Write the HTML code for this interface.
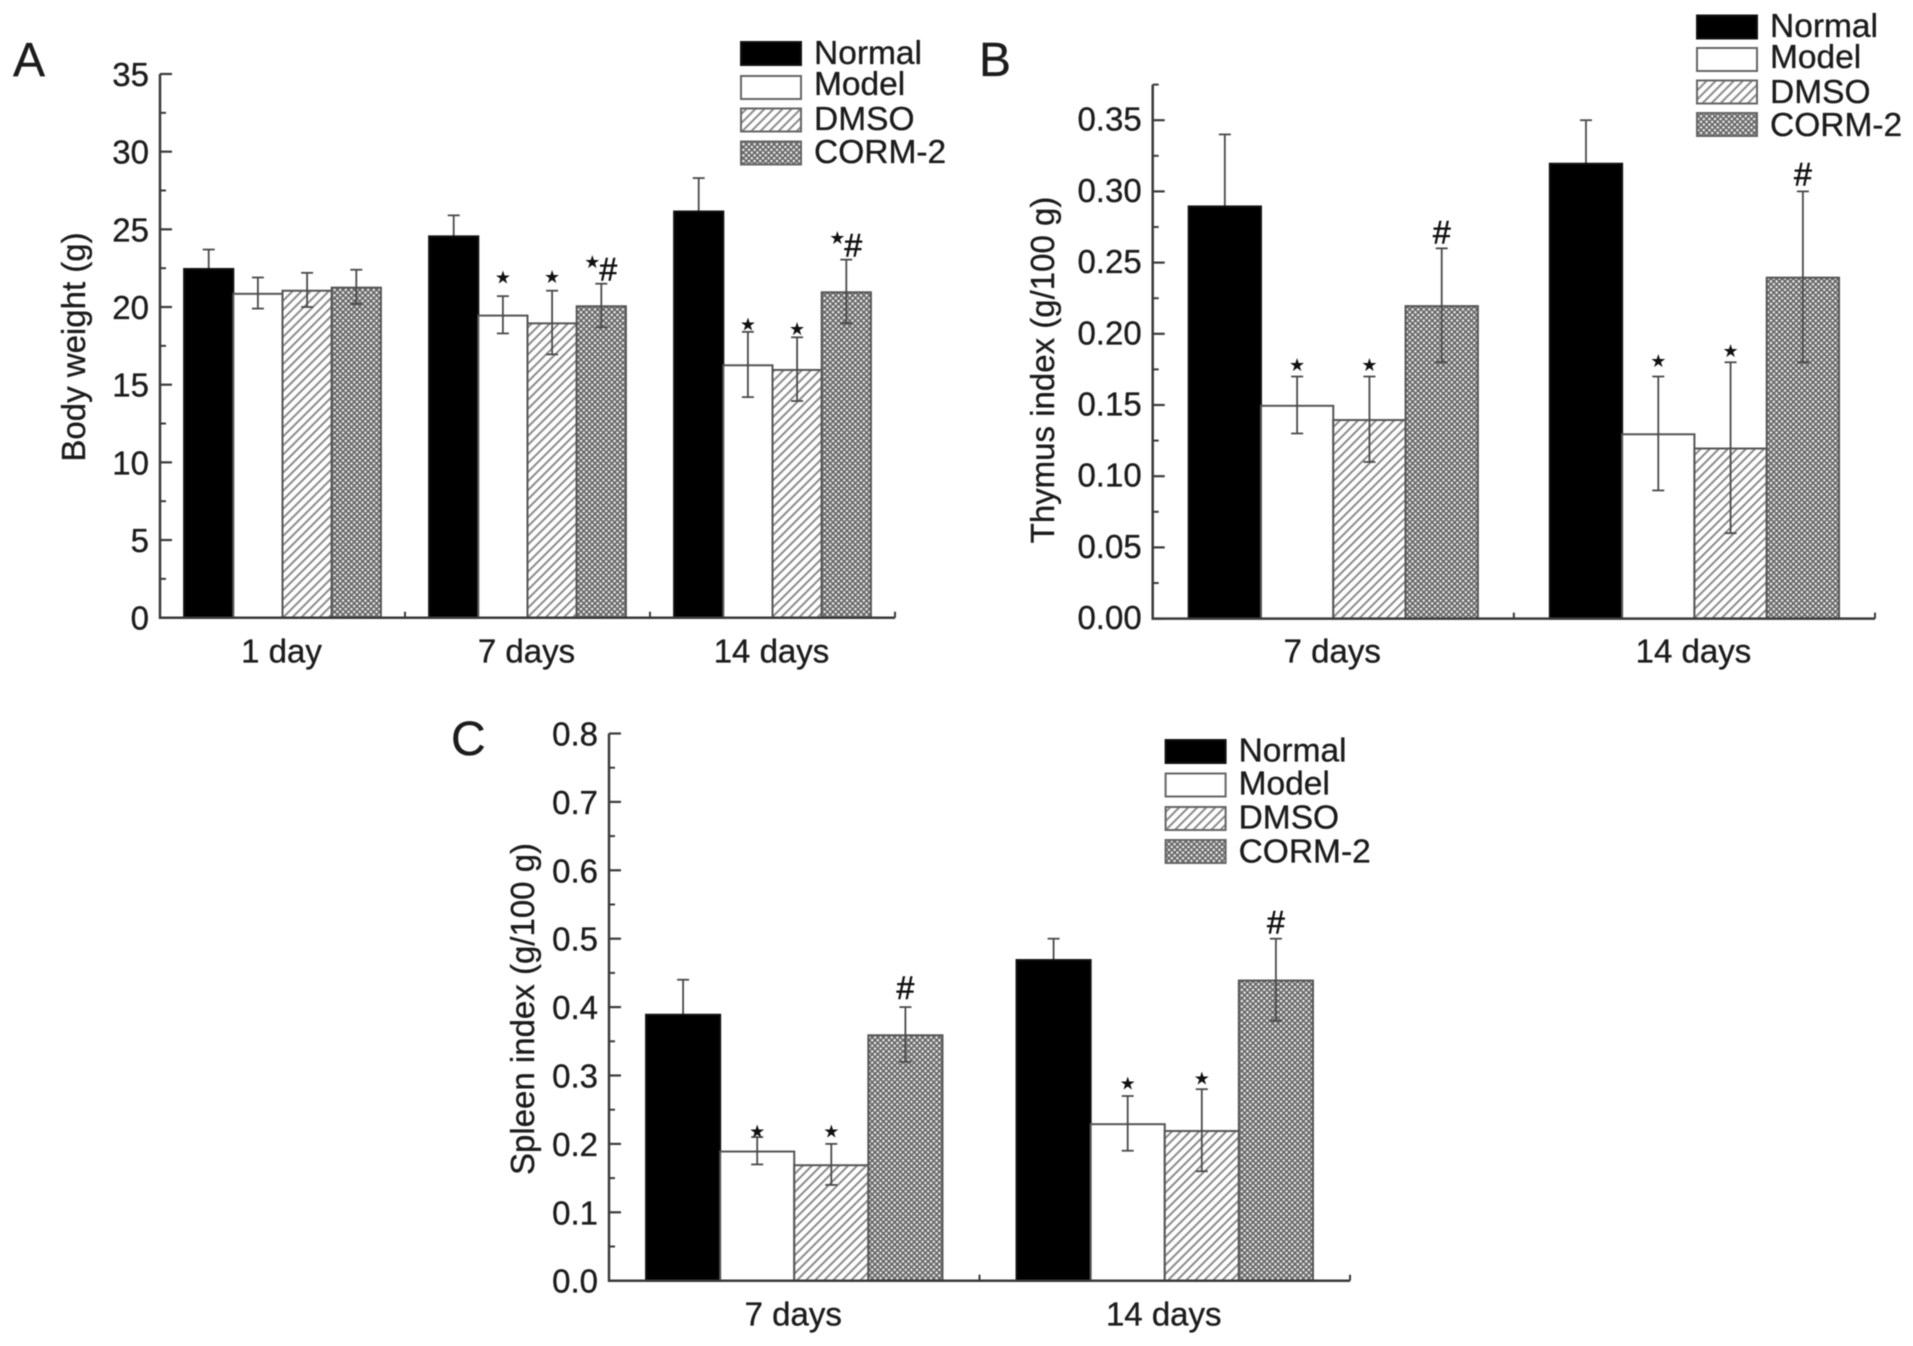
<!DOCTYPE html>
<html lang="en">
<head>
<meta charset="utf-8">
<title>Body weight, thymus index and spleen index</title>
<style>
  html, body { margin: 0; padding: 0; background: #fff; }
  body { width: 1913px; height: 1346px; overflow: hidden; }
  #figure { display: block; filter: blur(0.6px); }
  text { font-family: "Liberation Sans", sans-serif; fill: #1c1c1c; stroke: #1c1c1c; stroke-width: 0.35px; }
  .tick-label { font-size: 33px; }
  .axis-title { font-size: 33px; }
  .panel-letter { font-size: 48px; }
  .legend-label { font-size: 33.5px; }
</style>
</head>
<body>
<svg id="figure" xmlns="http://www.w3.org/2000/svg" width="1913" height="1346" viewBox="0 0 1913 1346">
  <defs>
    <pattern id="hatch" patternUnits="userSpaceOnUse" width="6.4" height="6.4" patternTransform="rotate(45)">
      <rect width="6.4" height="6.4" fill="#fff"/>
      <line x1="3.2" y1="0" x2="3.2" y2="6.4" stroke="#858585" stroke-width="1.9"/>
    </pattern>
    <pattern id="cross" patternUnits="userSpaceOnUse" width="5.6" height="5.6">
      <rect width="5.6" height="5.6" fill="#676767"/>
      <circle cx="1.4" cy="1.4" r="1.25" fill="#efefef"/>
      <circle cx="4.2" cy="4.2" r="1.25" fill="#efefef"/>
    </pattern>
  </defs>

  <rect width="1913" height="1346" fill="#fff"/>

  <text class="panel-letter" x="13" y="76">A</text>
  <text class="panel-letter" x="979" y="76">B</text>
  <text class="panel-letter" x="451" y="755">C</text>

  <text class="axis-title" text-anchor="middle" transform="translate(85 347) rotate(-90)">Body weight (g)</text>
  <text class="axis-title" text-anchor="middle" transform="translate(1054 370) rotate(-90)">Thymus index (g/100 g)</text>
  <text class="axis-title" text-anchor="middle" transform="translate(534 1009) rotate(-90)">Spleen index (g/100 g)</text>

  <g id="panel-a"></g>
  <g id="panel-b"></g>
  <g id="panel-c"></g>
</svg>

<script>
// ---------- shared ----------
const seriesNames = ['Normal', 'Model', 'DMSO', 'CORM-2'];

// ---------- panel A: body weight ----------
const aCategories = ['1 day', '7 days', '14 days'];
const aTickLabels = ['0', '5', '10', '15', '20', '25', '30', '35'];
const aTickValues = [0, 5, 10, 15, 20, 25, 30, 35];
const aNormal = [22.5, 24.6, 26.2];
const aModel = [20.9, 19.5, 16.3];
const aDMSO = [21.1, 19.0, 16.0];
const aCORM = [21.3, 20.1, 21.0];
const aNormalErr = [1.2, 1.3, 2.1];
const aModelErr = [1.0, 1.2, 2.1];
const aDMSOErr = [1.1, 2.05, 2.05];
const aCORMErr = [1.1, 1.4, 2.05];
const aNormalMarks = ['', '', ''];
const aModelMarks = ['', '★', '★'];
const aDMSOMarks = ['', '★', '★'];
const aCORMMarks = ['', '★#', '★#'];

// ---------- panel B: thymus index ----------
const bCategories = ['7 days', '14 days'];
const bTickLabels = ['0.00', '0.05', '0.10', '0.15', '0.20', '0.25', '0.30', '0.35'];
const bTickValues = [0, 0.05, 0.10, 0.15, 0.20, 0.25, 0.30, 0.35];
const bNormal = [0.29, 0.32];
const bModel = [0.15, 0.13];
const bDMSO = [0.14, 0.12];
const bCORM = [0.22, 0.24];
const bNormalErr = [0.05, 0.03];
const bModelErr = [0.02, 0.04];
const bDMSOErr = [0.03, 0.06];
const bCORMErr = [0.04, 0.06];
const bNormalMarks = ['', ''];
const bModelMarks = ['★', '★'];
const bDMSOMarks = ['★', '★'];
const bCORMMarks = ['#', '#'];

// ---------- panel C: spleen index ----------
const cCategories = ['7 days', '14 days'];
const cTickLabels = ['0.0', '0.1', '0.2', '0.3', '0.4', '0.5', '0.6', '0.7', '0.8'];
const cTickValues = [0, 0.1, 0.2, 0.3, 0.4, 0.5, 0.6, 0.7, 0.8];
const cNormal = [0.39, 0.47];
const cModel = [0.19, 0.23];
const cDMSO = [0.17, 0.22];
const cCORM = [0.36, 0.44];
const cNormalErr = [0.05, 0.03];
const cModelErr = [0.02, 0.04];
const cDMSOErr = [0.03, 0.06];
const cCORMErr = [0.04, 0.06];
const cNormalMarks = ['', ''];
const cModelMarks = ['★', '★'];
const cDMSOMarks = ['★', '★'];
const cCORMMarks = ['#', '#'];

// ---------- drawing ----------
const SVG_NS = 'http://www.w3.org/2000/svg';
const AXIS_COLOR = '#3a3a3a';
const BAR_EDGE = '#555';
const ERR_COLOR = '#4a4a4a';
const FILLS = ['#000', '#fff', 'url(#hatch)', 'url(#cross)'];
const SERIES_KEYS = ['normal', 'model', 'dmso', 'corm-2'];

function mk(tag, attrs, parent) {
  const el = document.createElementNS(SVG_NS, tag);
  for (const k in attrs) el.setAttribute(k, attrs[k]);
  parent.appendChild(el);
  return el;
}

function drawPanel(p) {
  const root = document.getElementById(p.id);
  const yScale = v => p.y0 - (v / p.yMax) * (p.y0 - p.yTop);
  const catWidth = (p.x1 - p.x0) / p.categories.length;
  const catCenter = i => p.x0 + catWidth * (i + 0.5);
  const barLeft = (i, s) => catCenter(i) + (s - 2) * p.barWidth;

  const drawError = (s, i, cx, top, bottom) => {
    const stem = mk('line', { x1: cx, x2: cx, y1: top, y2: bottom, stroke: ERR_COLOR, 'stroke-width': 1.8 }, root);
    
    
    [top, bottom].forEach(capY => {
      const cap = mk('line', { x1: cx - 6, x2: cx + 6, y1: capY, y2: capY, stroke: ERR_COLOR, 'stroke-width': 1.8 }, root);
      
      
    });
  };

  // bars (the black series hides the lower half of its own error bar)
  p.values.forEach((series, s) => {
    series.forEach((v, i) => {
      const cx = barLeft(i, s) + p.barWidth / 2;
      if (s === 0) drawError(s, i, cx, yScale(v + p.errors[s][i]), yScale(v - p.errors[s][i]));
      const bar = mk('rect', {
        x: barLeft(i, s), y: yScale(v) + 0.8, width: p.barWidth, height: p.y0 - yScale(v) - 0.8,
        fill: FILLS[s], stroke: s === 0 ? '#111' : BAR_EDGE, 'stroke-width': 2
      }, root);
      
      
    });
  });

  // remaining error bars and significance marks
  p.values.forEach((series, s) => {
    if (s === 0) return;
    series.forEach((v, i) => {
      const cx = barLeft(i, s) + p.barWidth / 2;
      const top = yScale(v + p.errors[s][i]);
      const bottom = yScale(v - p.errors[s][i]);
      drawError(s, i, cx, top, bottom);

      const mark = p.marks[s][i];
      if (!mark) return;
      const both = mark.length > 1;
      if (mark.indexOf('★') >= 0) {
        const gap = both ? 22 : p.starGap[s][i];
        const star = mk('text', {
          x: both ? cx - 9 : cx, y: top - gap + 6.5, 'text-anchor': 'middle',
          style: 'font-family:"DejaVu Sans",sans-serif;font-size:18px;fill:#111;stroke:none'
        }, root);
        star.textContent = '★';
        
        
      }
      if (mark.indexOf('#') >= 0) {
        const gap = both ? 14 : p.hashGap[i];
        const hash = mk('text', {
          x: both ? cx + 7 : cx, y: top - gap + 11, 'text-anchor': 'middle',
          style: 'font-size:32px;fill:#111;stroke:#111;stroke-width:0.6px'
        }, root);
        hash.textContent = '#';
        
        
      }
    });
  });

  // y axis
  const yAxis = mk('line', { x1: p.x0, x2: p.x0, y1: p.y0 + 1, y2: yScale(p.yMax), stroke: AXIS_COLOR, 'stroke-width': 2.5 }, root);
  
  

  p.tickValues.forEach((t, i) => {
    const tick = mk('line', { x1: p.x0, x2: p.x0 + 12, y1: yScale(t), y2: yScale(t), stroke: AXIS_COLOR, 'stroke-width': 2.2 }, root);
    
    

    const label = mk('text', { class: 'tick-label', x: p.x0 - 11, y: yScale(t) + p.tickDy, 'text-anchor': 'end' }, root);
    label.textContent = p.tickLabels[i];
    
    

    const next = p.tickValues[i + 1];
    const minorV = next !== undefined ? (t + next) / 2 : t + (t - p.tickValues[i - 1]) / 2;
    if (minorV <= p.yMax + 1e-9) {
      const minor = mk('line', { x1: p.x0, x2: p.x0 + 6, y1: yScale(minorV), y2: yScale(minorV), stroke: AXIS_COLOR, 'stroke-width': 2 }, root);
      
      
    }
  });

  // x axis
  const xAxis = mk('line', { x1: p.x0 - 1, x2: p.x1, y1: p.y0, y2: p.y0, stroke: AXIS_COLOR, 'stroke-width': 2.5 }, root);
  
  

  for (let i = 1; i <= p.categories.length; i++) {
    const xt = p.x0 + catWidth * i;
    const xTick = mk('line', { x1: xt, x2: xt, y1: p.y0, y2: p.y0 - 6, stroke: AXIS_COLOR, 'stroke-width': 2 }, root);
    
    
  }

  p.categories.forEach((c, i) => {
    const label = mk('text', { class: 'tick-label', x: catCenter(i) - p.labelShift, y: p.y0 + p.xLabelDy, 'text-anchor': 'middle' }, root);
    label.textContent = c;
    
    
  });

  // legend
  seriesNames.forEach((name, s) => {
    const swatch = mk('rect', {
      x: p.legendX, y: p.legendTops[s], width: 60, height: 23,
      fill: FILLS[s], stroke: s === 0 ? '#111' : '#666', 'stroke-width': 2
    }, root);
    
    

    const text = mk('text', { class: 'legend-label', x: p.legendX + 73, y: p.legendBaselines[s] }, root);
    text.textContent = name;
    
    
  });
}

drawPanel({
  id: 'panel-a', x0: 160, x1: 895, y0: 617.7, yTop: 74, yMax: 35, barWidth: 49.2, labelShift: 1, tickDy: 12, xLabelDy: 45,
  categories: aCategories, tickValues: aTickValues, tickLabels: aTickLabels,
  values: [aNormal, aModel, aDMSO, aCORM],
  errors: [aNormalErr, aModelErr, aDMSOErr, aCORMErr],
  marks: [aNormalMarks, aModelMarks, aDMSOMarks, aCORMMarks],
  starGap: [[], [0, 19, 8], [0, 14, 9], []], hashGap: [],
  legendX: 741, legendTops: [42, 76, 108.5, 141.5], legendBaselines: [64, 95, 130, 163]
});

drawPanel({
  id: 'panel-b', x0: 1152.7, x1: 1875, y0: 618.6, yTop: 84.6, yMax: 0.375, barWidth: 72.3, labelShift: 1, tickDy: 10.5, xLabelDy: 44,
  categories: bCategories, tickValues: bTickValues, tickLabels: bTickLabels,
  values: [bNormal, bModel, bDMSO, bCORM],
  errors: [bNormalErr, bModelErr, bDMSOErr, bCORMErr],
  marks: [bNormalMarks, bModelMarks, bDMSOMarks, bCORMMarks],
  starGap: [[], [12, 16], [12, 12], []], hashGap: [16, 17],
  legendX: 1697, legendTops: [15.5, 48, 80.5, 113], legendBaselines: [37, 68, 103, 136]
});

drawPanel({
  id: 'panel-c', x0: 609, x1: 1350, y0: 1280.7, yTop: 733.5, yMax: 0.8, barWidth: 74.1, labelShift: 1, tickDy: 12, xLabelDy: 45,
  categories: cCategories, tickValues: cTickValues, tickLabels: cTickLabels,
  values: [cNormal, cModel, cDMSO, cCORM],
  errors: [cNormalErr, cModelErr, cDMSOErr, cCORMErr],
  marks: [cNormalMarks, cModelMarks, cDMSOMarks, cCORMMarks],
  starGap: [[], [6, 13], [13, 11], []], hashGap: [19, 16],
  legendX: 1165.6, legendTops: [740, 773.5, 807, 840], legendBaselines: [761.6, 794.7, 828.7, 862.7]
});
</script>
</body>
</html>
